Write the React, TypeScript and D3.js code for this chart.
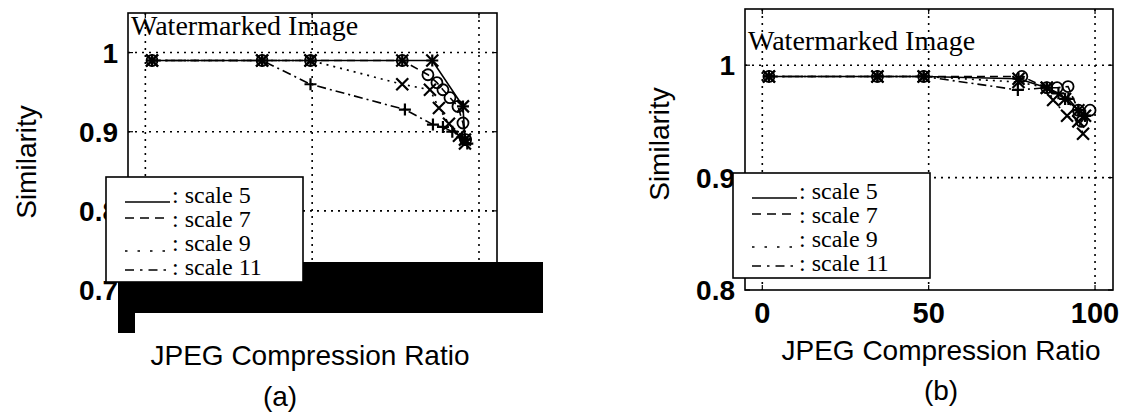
import * as d3 from "d3";

// axis ticks
const xTicks = [0, 50, 100];
const aYTicks = [0.7, 0.8, 0.9, 1];
const bYTicks = [0.8, 0.9, 1];
const scaleNames = ["scale 5", "scale 7", "scale 9", "scale 11"];

// panel (a) values
const aX5 = [2, 35, 49.5, 77, 86, 95.2, 95.8];
const aY5 = [0.99, 0.99, 0.99, 0.99, 0.99, 0.932, 0.89];
const aX7 = [2, 35, 49.5, 77, 84.7, 87.4, 89.2, 91.3, 93.7, 95.2, 96];
const aY7 = [0.99, 0.99, 0.99, 0.99, 0.972, 0.962, 0.953, 0.943, 0.932, 0.911, 0.89];
const aX9 = [2, 35, 49.5, 77, 85.3, 88, 91, 94, 95.8];
const aY9 = [0.99, 0.99, 0.99, 0.96, 0.953, 0.93, 0.91, 0.895, 0.885];
const aX11 = [2, 35, 49.5, 77.8, 86.2, 89.2, 92, 95, 96.5];
const aY11 = [0.99, 0.99, 0.96, 0.928, 0.909, 0.906, 0.9, 0.893, 0.885];

// panel (b) values
const bX5 = [2, 34.6, 48.5, 77, 85.5, 91, 95, 97];
const bY5 = [0.99, 0.99, 0.99, 0.988, 0.98, 0.97, 0.96, 0.955];
const bX7 = [2, 34.6, 48.5, 78, 85.5, 88.6, 91.9, 95, 96, 98.5];
const bY7 = [0.99, 0.99, 0.99, 0.99, 0.98, 0.98, 0.981, 0.96, 0.95, 0.96];
const bX9 = [2, 34.6, 48.5, 77, 85.5, 87.4, 91.6, 95, 96.4];
const bY9 = [0.99, 0.99, 0.99, 0.985, 0.98, 0.969, 0.955, 0.95, 0.939];
const bX11 = [2, 34.6, 48.5, 76.8, 85.5, 89, 92, 95, 97];
const bY11 = [0.99, 0.99, 0.99, 0.978, 0.98, 0.975, 0.97, 0.96, 0.955];

const SANS = "'Liberation Sans', Arial, sans-serif";
const SERIF = "'Liberation Serif', 'Times New Roman', serif";

const styles = [
  { dash: "none", marker: "*" },
  { dash: "8,5", marker: "o" },
  { dash: "2,5", marker: "x" },
  { dash: "9,4,2,4", marker: "+" },
];

type Series = { xs: number[]; ys: number[] };

const Marker = ({ kind, cx, cy }: { kind: string; cx: number; cy: number }) => {
  const s = 6;
  if (kind === "o") return <circle cx={cx} cy={cy} r={5.5} fill="none" stroke="black" strokeWidth={1.8} />;
  const plus = <path d={`M${cx - s},${cy}H${cx + s}M${cx},${cy - s}V${cy + s}`} />;
  const cross = <path d={`M${cx - s},${cy - s}L${cx + s},${cy + s}M${cx - s},${cy + s}L${cx + s},${cy - s}`} />;
  return (
    <g stroke="black" strokeWidth={2.2}>
      {kind !== "x" && plus}
      {kind !== "+" && cross}
    </g>
  );
};

const Panel = (p: {
  series: Series[];
  box: [number, number, number, number];
  yDomain: [number, number];
  yTicks: number[];
  xLabels: boolean;
  legend: [number, number];
  titleY: number;
  simX: number;
  simY: number;
  jpegX: number;
  jpegY: number;
  tag: string;
  tagX: number;
  tagY: number;
  bar: boolean;
}) => {
  const [l, t, r, b] = p.box;
  const x = d3.scaleLinear().domain([-5.2, 105.4]).range([l, r]);
  const y = d3.scaleLinear().domain(p.yDomain).range([b, t]);
  const [lx, ly] = p.legend;
  return (
    <g>
      {/* grid */}
      <g stroke="black" strokeWidth={1.6} strokeDasharray="2,5">
        {xTicks.map((v) => (
          <line key={"gx" + v} x1={x(v)} x2={x(v)} y1={t} y2={b} />
        ))}
        {p.yTicks
          .filter((v) => v > p.yDomain[0])
          .map((v) => (
            <line key={"gy" + v} x1={l} x2={r} y1={y(v)} y2={y(v)} />
          ))}
      </g>
      {/* inward ticks */}
      <g stroke="black" strokeWidth={1.2}>
        {xTicks.map((v) => (
          <g key={"tx" + v}>
            <line x1={x(v)} x2={x(v)} y1={t} y2={t + 5} />
            <line x1={x(v)} x2={x(v)} y1={b} y2={b - 5} />
          </g>
        ))}
        {p.yTicks.map((v) => (
          <g key={"ty" + v}>
            <line x1={l} x2={l + 5} y1={y(v)} y2={y(v)} />
            <line x1={r} x2={r - 5} y1={y(v)} y2={y(v)} />
          </g>
        ))}
      </g>
      {/* series */}
      {p.series.map((s, i) => {
        const pts = s.xs.map((xv, j) => [x(xv), y(s.ys[j])] as [number, number]);
        const path = d3.line()(pts) || "";
        return (
          <g key={"s" + i}>
            <path d={path} fill="none" stroke="black" strokeWidth={1.6} strokeDasharray={styles[i].dash} />
            {pts.map((pt, j) => (
              <Marker key={j} kind={styles[i].marker} cx={pt[0]} cy={pt[1]} />
            ))}
          </g>
        );
      })}
      <rect x={l} y={t} width={r - l} height={b - t} fill="none" stroke="black" strokeWidth={1.6} />
      <text x={l + 3} y={t + p.titleY} fontFamily={SERIF} fontSize={28}>
        Watermarked Image
      </text>
      {/* tick labels */}
      {p.yTicks.map((v) => (
        <text
          key={"yl" + v}
          x={l - 10}
          y={y(v) + 10}
          textAnchor="end"
          fontFamily={SANS}
          fontWeight="bold"
          fontSize={28}
        >
          {v === 1 ? "1" : v.toFixed(1)}
        </text>
      ))}
      {p.xLabels &&
        xTicks.map((v) => (
          <text key={"xl" + v} x={x(v)} y={b + 33} textAnchor="middle" fontFamily={SANS} fontWeight="bold" fontSize={29}>
            {v}
          </text>
        ))}
      {p.bar && (
        <g fill="black">
          <rect x={118} y={262} width={425} height={51} />
          <rect x={118} y={262} width={17} height={71} />
        </g>
      )}
      {/* legend */}
      <g>
        <rect x={lx} y={ly} width={197} height={105} fill="white" stroke="black" strokeWidth={1.6} />
        {scaleNames.map((name, i) => {
          const ty = ly + 26 + i * 24;
          const sy = [ty - 1, ty - 9, ty, ty - 5][i];
          return (
            <g key={name}>
              <line
                x1={lx + 19}
                x2={lx + 64}
                y1={sy}
                y2={sy}
                stroke="black"
                strokeWidth={1.6}
                strokeDasharray={i === 0 ? "none" : i === 1 ? "9,6" : i === 2 ? "2.5,10" : "9,6,2.5,6"}
              />
              <text x={lx + 66} y={ty} fontFamily={SERIF} fontSize={24}>
                {`: ${name}`}
              </text>
            </g>
          );
        })}
      </g>
      <text
        transform={`translate(${p.simX},${p.simY}) rotate(-90)`}
        textAnchor="middle"
        fontFamily={SANS}
        fontSize={28}
      >
        Similarity
      </text>
      <text x={p.jpegX} y={p.jpegY} textAnchor="middle" fontFamily={SANS} fontSize={28}>
        JPEG Compression Ratio
      </text>
      <text x={p.tagX} y={p.tagY} textAnchor="middle" fontFamily={SANS} fontSize={28}>
        {p.tag}
      </text>
    </g>
  );
};

export default function App() {
  const aSeries = [
    { xs: aX5, ys: aY5 },
    { xs: aX7, ys: aY7 },
    { xs: aX9, ys: aY9 },
    { xs: aX11, ys: aY11 },
  ];
  const bSeries = [
    { xs: bX5, ys: bY5 },
    { xs: bX7, ys: bY7 },
    { xs: bX9, ys: bY9 },
    { xs: bX11, ys: bY11 },
  ];
  return (
    <svg
      width={1123}
      height={414}
      style={{ position: "absolute", left: 0, top: 0, background: "white" }}
    >
      <Panel
        series={aSeries}
        box={[128, 13, 497, 290]}
        yDomain={[0.7, 1.05]}
        yTicks={aYTicks}
        xLabels={false}
        legend={[106, 177]}
        titleY={22}
        simX={36}
        simY={162}
        jpegX={310}
        jpegY={365}
        tag="(a)"
        tagX={280}
        tagY={406}
        bar={true}
      />
      <Panel
        series={bSeries}
        box={[745, 9, 1113, 290]}
        yDomain={[0.8, 1.05]}
        yTicks={bYTicks}
        xLabels={true}
        legend={[733, 173]}
        titleY={41}
        simX={669}
        simY={144}
        jpegX={941}
        jpegY={360}
        tag="(b)"
        tagX={941}
        tagY={400}
        bar={false}
      />
    </svg>
  );
}
